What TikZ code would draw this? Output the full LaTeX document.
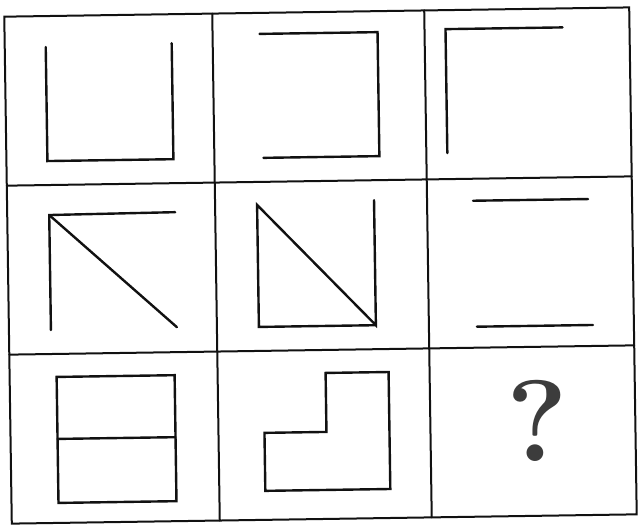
\documentclass[tikz,border=0pt]{standalone}
\usepackage{fontspec}
\usepackage{tikz}
\definecolor{ink}{HTML}{111111}
\definecolor{qgray}{HTML}{3C3C3C}

\begin{document}
\begin{tikzpicture}[x=1pt,y=-1pt,
  gridln/.style={draw=ink,line width=2pt,line cap=round},
  fig/.style={draw=ink,line width=2.4pt,line join=miter,line cap=round},
  qmark/.style={text=qgray,font=\fontsize{116}{116}\selectfont\bfseries,inner sep=0pt}]
\fill[white] (0,0) rectangle (638,528);
\useasboundingbox (0,0) rectangle (638,528);
\begin{scope}[rotate around={0.85:(321,266)}]
% ---------- the 3x3 grid ----------
\draw[gridln] (8,12) rectangle (633,519);
\foreach \x in {216,428} \draw[gridln] (\x,12) -- (\x,519);
\foreach \y in {181,350} \draw[gridln] (8,\y) -- (633,\y);

% ---------- row 1 ----------
\draw[fig] (49,43) -- (49,157) -- (175,157) -- (175,41);
\draw[fig] (263,33) -- (381,33) -- (381,157) -- (265,157);
\draw[fig] (566,31) -- (449,31) -- (449,155);

% ---------- row 2 ----------
\draw[fig] (176,210) -- (50,211) -- (50,326);
\draw[fig] (50,211) -- (176,325);
\draw[fig] (375,201) -- (375,326) -- (258,204) -- (258,326) -- (375,326);
\draw[fig] (474,203) -- (589,203);
\draw[fig] (476,329) -- (592,329);

% ---------- row 3 ----------
\draw[fig] (55,373) rectangle (173,499);
\draw[fig] (55,435) -- (173,435);
\draw[fig] (262,432) -- (324,432) -- (324,373) -- (387,373) -- (387,490) -- (262,490) -- cycle;
\node[qmark] (q) at (535,424) {?};
\end{scope}
\end{tikzpicture}
\end{document}
